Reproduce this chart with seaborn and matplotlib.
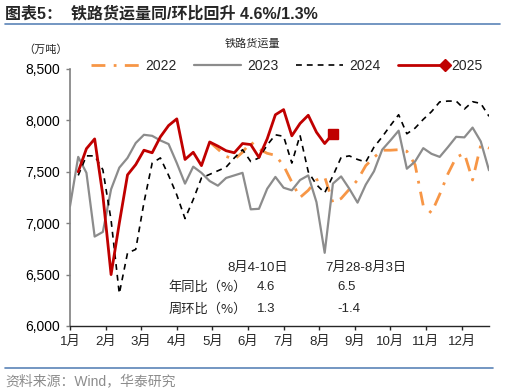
import numpy as np
import pandas as pd
import matplotlib
matplotlib.use("Agg")
import matplotlib.pyplot as plt
import seaborn as sns
from matplotlib.lines import Line2D
from matplotlib.legend_handler import HandlerBase
from matplotlib.ticker import FuncFormatter

# 铁路货运量（万吨），按周
x_2022 = list(range(17, 52))
v_2022 = [7790, 7720, 7650, 7620, 7690, 7790, 7720, 7680, 7660, 7560,
          7400, 7250, 7320, 7420, 7450, 7200, 7240, 7330, 7420, 7560,
          7640, 7710, 7710, 7715, 7700, 7570, 7170, 7100, 7280, 7480,
          7640, 7680, 7420, 7760, 7730]

x_2023 = list(range(0, 52))
v_2023 = [7165, 7645, 7490, 6870, 6915, 7330, 7540, 7635, 7780, 7860,
          7850, 7805, 7770, 7585, 7385, 7550, 7490, 7410, 7365, 7440,
          7465, 7490, 7135, 7140, 7335, 7450, 7345, 7320, 7420, 7465,
          7205, 6712, 7385, 7455, 7335, 7200, 7375, 7505, 7715, 7805,
          7900, 7530, 7600, 7730, 7675, 7645, 7740, 7840, 7835, 7930,
          7795, 7515]

x_2024 = list(range(1, 52))
v_2024 = [7465, 7655, 7655, 7520, 7030, 6315, 6710, 6745, 7200, 7585,
          7635, 7465, 7275, 7045, 7230, 7440, 7475, 7510, 7545, 7635,
          7715, 7600, 7635, 7760, 7860, 7845, 7585, 7855, 7500, 7375,
          7295, 7460, 7640, 7655, 7620, 7595, 7740, 7840, 7950, 8055,
          7870, 7925, 8010, 8085, 8180, 8188, 8188, 8110, 8182, 8165,
          8040]

x_2025 = list(range(1, 33))
v_2025 = [7500, 7725, 7820, 7270, 6500, 7000, 7470, 7570, 7710, 7685,
          7840, 7950, 8015, 7620, 7690, 7560, 7790, 7750, 7705, 7685,
          7775, 7765, 7640, 7820, 8055, 8105, 7850, 7970, 8050, 7885,
          7775, 7870]

months = [f"{m}月" for m in range(1, 13)]

c22, c23, c24, c25 = "#F79646", "#8C8C8C", "#000000", "#C00000"

sns.set_style("ticks")
plt.rcParams["font.family"] = ["Liberation Sans", "Noto Sans CJK SC"]
cjk = ["Noto Sans CJK SC", "Liberation Sans"]

fig = plt.figure(figsize=(5.09, 3.92), dpi=100)
ax = fig.add_axes([70 / 509, 66 / 392, 419 / 509, 257 / 392])

df22 = pd.DataFrame({"x": x_2022, "v": v_2022})
df23 = pd.DataFrame({"x": x_2023, "v": v_2023})
df24 = pd.DataFrame({"x": x_2024, "v": v_2024})
df25 = pd.DataFrame({"x": x_2025, "v": v_2025})

sns.lineplot(data=df22, x="x", y="v", ax=ax, color=c22, lw=2.0, zorder=2)
ax.lines[-1].set_dashes([5, 3, 1, 3])
sns.lineplot(data=df23, x="x", y="v", ax=ax, color=c23, lw=1.6, zorder=3)
sns.lineplot(data=df24, x="x", y="v", ax=ax, color=c24, lw=1.2, zorder=4)
ax.lines[-1].set_dashes([3.5, 3])
sns.lineplot(data=df25, x="x", y="v", ax=ax, color=c25, lw=2.0, zorder=5)
ax.plot(df25["x"].iloc[-1:], df25["v"].iloc[-1:], marker="s", ms=7,
        color=c25, zorder=6, ls="none")

ax.set_xlim(0, 51)
ax.set_ylim(6000, 8500)
ax.set_yticks([6000, 6500, 7000, 7500, 8000, 8500])
ax.yaxis.set_major_formatter(FuncFormatter(lambda v, p: f"{int(v):,}"))
ax.set_xticks([i * 52 / 12 for i in range(12)])
ax.set_xticklabels(months)
ax.set_xlabel("")
ax.set_ylabel("")
ax.tick_params(axis="y", labelsize=10, length=3, width=1, colors="#7F7F7F",
               labelcolor="black", pad=4)
ax.tick_params(axis="x", labelsize=9.5, length=3, width=1, pad=4)
sns.despine(ax=ax)
ax.spines["left"].set_color("#7F7F7F")
ax.spines["left"].set_linewidth(1.2)
ax.spines["bottom"].set_linewidth(1.0)


class EndMarker(HandlerBase):
    def create_artists(self, legend, orig_handle, xdescent, ydescent,
                       width, height, fontsize, trans):
        y = height / 2 - ydescent
        ln = Line2D([-xdescent, width - xdescent], [y, y],
                    color=c25, lw=2.0, transform=trans)
        mk = Line2D([width - xdescent], [y], marker="D", ms=6,
                    color=c25, transform=trans)
        return [ln, mk]


h22 = Line2D([], [], color=c22, lw=2.0, dashes=[5, 3, 1, 3])
h23 = Line2D([], [], color=c23, lw=1.6)
h24 = Line2D([], [], color=c24, lw=1.2, dashes=[3.5, 3])
h25 = Line2D([], [], color=c25, lw=2.0)
fig.legend([h22, h23, h24, h25], ["2022", "2023", "2024", "2025"],
           handler_map={h25: EndMarker()}, loc="center",
           bbox_to_anchor=(287 / 509, 1 - 66 / 392), ncol=4, frameon=False,
           fontsize=10, handlelength=3.4, handletextpad=0.45,
           columnspacing=1.25)

# annotations
ann = dict(fontsize=9.5, ha="center", va="center")
fig.text(258 / 509, 1 - 268 / 392, "8月4-10日", **ann)
fig.text(366 / 509, 1 - 268 / 392, "7月28-8月3日", **ann)
fig.text(208 / 509, 1 - 287 / 392, "年同比（%）", family=cjk, **ann)
fig.text(266 / 509, 1 - 287 / 392, "4.6", **ann)
fig.text(347 / 509, 1 - 287 / 392, "6.5", **ann)
fig.text(208 / 509, 1 - 309 / 392, "周环比（%）", family=cjk, **ann)
fig.text(266 / 509, 1 - 309 / 392, "1.3", **ann)
fig.text(349 / 509, 1 - 309 / 392, "-1.4", **ann)

# titles and frame
fig.text(5 / 509, 1 - 14 / 392, "图表5：  铁路货运量同/环比回升 4.6%/1.3%",
         fontsize=11.5, fontweight="bold", ha="left", va="center")
fig.add_artist(Line2D([5 / 509, 500 / 509], [1 - 24 / 392] * 2,
                      color="#5B84B8", lw=1.2))
fig.text(252 / 509, 1 - 43 / 392, "铁路货运量", fontsize=8,
         family=cjk, ha="center", va="center")
fig.text(46 / 509, 1 - 50 / 392, "（万吨）", fontsize=8,
         family=cjk, ha="center", va="center")
fig.add_artist(Line2D([5 / 509, 493 / 509], [1 - 368 / 392] * 2,
                      color="#5B84B8", lw=1.2))
fig.text(5 / 509, 1 - 381 / 392, "资料来源：Wind，华泰研究", fontsize=10,
         color="#8C8C8C", ha="left", va="center")

fig.savefig("out.png", dpi=100)
